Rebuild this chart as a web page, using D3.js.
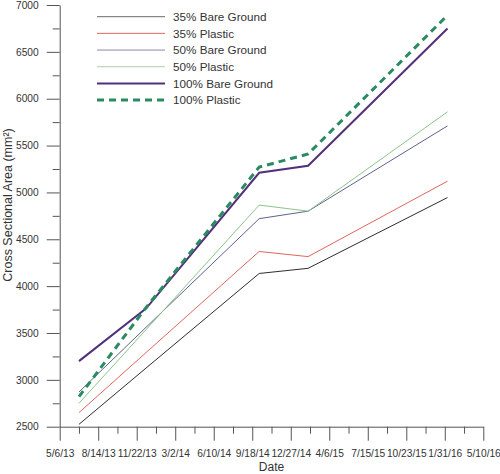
<!DOCTYPE html>
<html>
<head>
<meta charset="utf-8">
<script src="https://cdn.jsdelivr.net/npm/d3@7"></script>
<style>
  body { margin: 0; background: #fff; }
  svg { display: block; font-family: "Liberation Sans", Arial, sans-serif; }
</style>
</head>
<body>
<svg id="chart" width="500" height="474"></svg>
<script>
// ---- Data ----
const dates = ["2013-06-25", "2013-12-16", "2014-10-06", "2015-02-10", "2016-02-07"];
const seriesNames = ["35% Bare Ground", "35% Plastic", "50% Bare Ground", "50% Plastic", "100% Bare Ground", "100% Plastic"];
const bare35 = [2525, 3125, 4135, 4190, 4945];
const plastic35 = [2650, 3290, 4370, 4315, 5120];
const bare50 = [2870, 3560, 4720, 4800, 5710];
const plastic50 = [2750, 3535, 4865, 4800, 5860];
const bare100 = [3200, 3760, 5210, 5285, 6750];
const plastic100 = [2820, 3770, 5270, 5410, 6890];
const xTickDates = ["2013-05-06", "2013-08-14", "2013-11-22", "2014-03-02", "2014-06-10", "2014-09-18",
                    "2014-12-27", "2015-04-06", "2015-07-15", "2015-10-23", "2016-01-31", "2016-05-10"];
const yTicks = [2500, 3000, 3500, 4000, 4500, 5000, 5500, 6000, 6500, 7000];

// ---- Styles ----
const styles = [
  { color: "#2e2e2e", width: 1, dash: null, legendColor: "#6a6a6a" },
  { color: "#e0665e", width: 1, dash: null, legendColor: "#e0665e" },
  { color: "#5f6290", width: 1, dash: null, legendColor: "#8a8ca8" },
  { color: "#8cc48c", width: 1, dash: null, legendColor: "#b0cfa8" },
  { color: "#52307a", width: 2, dash: null, legendColor: "#52307a" },
  { color: "#2a8a62", width: 3, dash: "7,5", legendColor: "#2a8a62" }
];
const allSeries = [bare35, plastic35, bare50, plastic50, bare100, plastic100];

const parse = d3.timeParse("%Y-%m-%d");
const svg = d3.select("#chart");
const mLeft = 59.7, mRight = 483.3, mTop = 5, mBottom = 426.7;

const x = d3.scaleTime().domain([parse("2013-05-06"), parse("2016-05-10")]).range([mLeft, mRight]);
const y = d3.scaleLinear().domain([2500, 7000]).range([mBottom, mTop]);

const fmt = d => `${d.getMonth() + 1}/${d.getDate()}/${String(d.getFullYear()).slice(2)}`;
const majorX = xTickDates.map(parse);
const minorX = majorX.slice(0, -1).map(d => d3.timeDay.offset(d, 50));

// Minor ticks x
svg.append("g").attr("transform", `translate(0,${mBottom})`)
  .call(d3.axisBottom(x).tickValues(minorX).tickSize(7).tickFormat(""))
  .call(g => g.select(".domain").remove())
  .call(g => g.selectAll("line").attr("stroke", "#555"));
// Major x axis
svg.append("g").attr("transform", `translate(0,${mBottom})`)
  .call(d3.axisBottom(x).tickValues(majorX).tickSize(14).tickSizeOuter(0).tickPadding(9).tickFormat(fmt))
  .call(g => g.select(".domain").attr("stroke", "#555"))
  .call(g => g.selectAll("line").attr("stroke", "#555"))
  .call(g => g.selectAll("text").attr("font-size", 10.2).attr("fill", "#333").attr("font-family", "Liberation Sans, Arial, sans-serif"));

// Minor y ticks
const minorY = yTicks.slice(0, -1).map(v => v + 250);
svg.append("g").attr("transform", `translate(${mLeft},0)`)
  .call(d3.axisLeft(y).tickValues(minorY).tickSize(7).tickFormat(""))
  .call(g => g.select(".domain").remove())
  .call(g => g.selectAll("line").attr("stroke", "#555"));
svg.append("g").attr("transform", `translate(${mLeft},0)`)
  .call(d3.axisLeft(y).tickValues(yTicks).tickSize(13).tickSizeOuter(0).tickPadding(8).tickFormat(d3.format("d")))
  .call(g => g.select(".domain").attr("stroke", "#555"))
  .call(g => g.selectAll("line").attr("stroke", "#555"))
  .call(g => g.selectAll("text").attr("font-size", 10.2).attr("fill", "#333").attr("font-family", "Liberation Sans, Arial, sans-serif"));

// Axis titles
svg.append("text").attr("x", 271.5).attr("y", 471).attr("text-anchor", "middle")
  .attr("font-size", 12).attr("fill", "#333").text("Date");
svg.append("text").attr("transform", `translate(12,205) rotate(-90)`)
  .attr("text-anchor", "middle").attr("font-size", 12.5).attr("fill", "#333")
  .text("Cross Sectional Area (mm²)");

// Lines
const line = d3.line().x((d, i) => x(parse(dates[i]))).y(d => y(d));
allSeries.forEach((s, i) => {
  const st = styles[i];
  svg.append("path").datum(s).attr("d", line)
    .attr("fill", "none").attr("stroke", st.color).attr("stroke-width", st.width)
    .attr("stroke-dasharray", st.dash);
});

// Legend
const leg = svg.append("g");
seriesNames.forEach((name, i) => {
  const st = styles[i];
  const yy = 16.7 + i * 16.67;
  leg.append("line").attr("x1", 97).attr("x2", 165).attr("y1", yy).attr("y2", yy)
    .attr("stroke", st.legendColor).attr("stroke-width", st.width)
    .attr("stroke-dasharray", st.dash);
  leg.append("text").attr("x", 173).attr("y", yy + 4.2).attr("font-size", 11.7).attr("fill", "#333").text(name);
});
</script>
</body>
</html>
